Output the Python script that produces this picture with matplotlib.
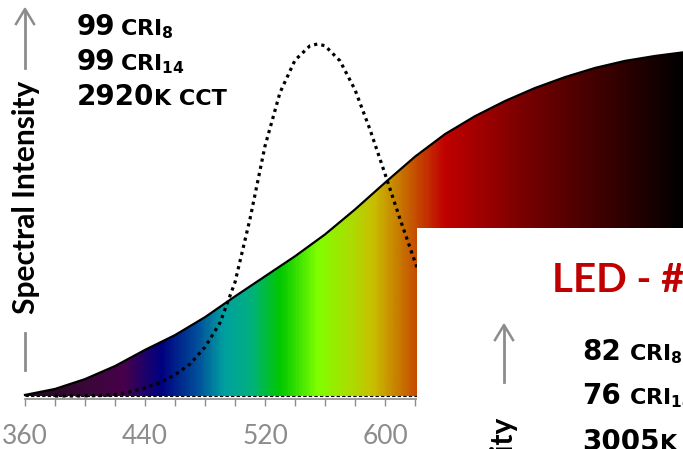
import numpy as np
import matplotlib
matplotlib.use("Agg")
import matplotlib.pyplot as plt
from matplotlib.colors import LinearSegmentedColormap
from matplotlib.patches import Rectangle

plt.rcParams['font.family'] = ['Lato', 'DejaVu Sans']
plt.rcParams['mathtext.fontset'] = 'dejavusans'

# spectral power of the lamp (percent of plot height)
wl = [360, 380, 400, 420, 440, 460, 480, 500, 520, 540, 560, 580, 600,
      620, 640, 660, 680, 700, 720, 740, 760, 780, 800]
spd = [0.3, 2.0, 4.8, 8.5, 13.1, 17.3, 22.4, 28.3, 34.0, 39.7, 45.9, 53.0, 60.6,
       68.0, 74.4, 79.5, 83.8, 87.5, 90.6, 93.2, 95.2, 96.6, 97.7]

# eye sensitivity curve V(lambda), dotted
v_wl = [380, 390, 400, 410, 420, 430, 440, 450, 460, 470, 480, 490, 500, 510,
        520, 530, 540, 550, 555, 560, 570, 580, 590, 600, 610, 620, 630, 640,
        650, 660, 670, 680, 690, 700]
v_val = [0.00004, 0.00012, 0.0004, 0.0012, 0.004, 0.0116, 0.023, 0.038, 0.060,
         0.091, 0.139, 0.208, 0.323, 0.503, 0.710, 0.862, 0.954, 0.995, 1.0,
         0.995, 0.952, 0.870, 0.757, 0.631, 0.503, 0.381, 0.265, 0.175, 0.107,
         0.061, 0.032, 0.017, 0.0082, 0.0041]

# rainbow stops for the fill
stop_wl = [360, 400, 425, 450, 475, 492, 510, 530, 555, 575, 592, 612, 640, 700, 800]
stop_col = ['#1e0a1e', '#3a0838', '#48004a', '#000080', '#00509a', '#00a0a0',
            '#00b080', '#00c800', '#80ff00', '#a8e000', '#c8c000', '#c87000',
            '#c00000', '#700000', '#000000']

ticks_major = [360, 440, 520, 600, 680, 760]

W, H = 683, 449
fig = plt.figure(figsize=(W / 100, H / 100), dpi=100)
ax = fig.add_axes([25 / W, (H - 399) / H, 660 / W, 355 / H])
ax.set_xlim(360, 800)
ax.set_ylim(-3 / 352, 1.0)

x = np.array(wl, dtype=float)
y = np.array(spd) / 100

cmap = LinearSegmentedColormap.from_list(
    'spec', [((w - 360) / 440, c) for w, c in zip(stop_wl, stop_col)])
grad = np.linspace(0, 1, 600).reshape(1, -1)
im = ax.imshow(grad, cmap=cmap, aspect='auto', extent=[360, 800, 0, 1],
               origin='lower', zorder=1)
poly = ax.fill_between(x, 0, y, color='none', lw=0)
im.set_clip_path(poly.get_paths()[0], transform=ax.transData)

ax.plot(x, y, color='black', lw=1.6, zorder=3, clip_on=False)
ax.axhline(0, color='black', lw=0.8, ls=(0, (3, 2)), zorder=3)
ax.plot(v_wl, v_val, color='black', lw=2.3, ls=(0, (1, 1.3)), zorder=4,
        clip_on=False)

for s in ['top', 'right', 'left']:
    ax.spines[s].set_visible(False)
ax.spines['bottom'].set_color('#8c8c8c')
ax.spines['bottom'].set_linewidth(1.2)
ax.set_yticks([])
ax.set_xticks(ticks_major)
ax.set_xticks(np.arange(360, 801, 20), minor=True)
ax.tick_params(axis='x', which='both', length=5, width=1, color='#8c8c8c',
               direction='out')
ax.tick_params(axis='x', which='major', labelsize=19, labelcolor='#8c8c8c',
               pad=13)
ax.patch.set_visible(False)

renderer = fig.canvas.get_renderer()


def runs(x0, ybase, parts, color='black', family='DejaVu Sans'):
    # parts: (text, size, gap before)
    xx = x0
    for s, size, gap in parts:
        xx += gap
        t = fig.text(xx / W, 1 - ybase / H, s, fontsize=size, fontweight='bold',
                     family=family, va='baseline', ha='left', color=color,
                     zorder=10)
        xx += t.get_window_extent(renderer).width


def arrow(xp, y_top, y_bot):
    fig.add_artist(plt.Line2D([xp / W] * 2, [1 - (y_top + 2) / H, 1 - y_bot / H],
                              color='#8c8c8c', lw=2, zorder=10))
    fig.add_artist(plt.Line2D([(xp - 9) / W, xp / W, (xp + 9) / W],
                              [1 - (y_top + 15) / H, 1 - y_top / H, 1 - (y_top + 15) / H],
                              color='#8c8c8c', lw=1.8, zorder=10))


# left labels
runs(77, 35, [('99', 20, 0), (r'CRI$_\mathbf{8}$', 16, 4)])
runs(77, 70, [('99', 20, 0), (r'CRI$_\mathbf{14}$', 16, 4)])
runs(77, 105, [('2920', 20, 0), ('K CCT', 16, 0)])

fig.text(26 / W, 1 - 197 / H, 'Spectral Intensity', rotation=90, fontsize=21.5,
         fontweight='bold', ha='center', va='center', zorder=10)
arrow(25, 9, 68)
fig.add_artist(plt.Line2D([25 / W] * 2, [1 - 333 / H, 1 - 370 / H],
                          color='#8c8c8c', lw=2, zorder=10))

# white panel of the next slide element
fig.add_artist(Rectangle((417 / W, 0), 1, 1 - 228 / H, transform=fig.transFigure,
                         facecolor='white', edgecolor='none', zorder=8))

runs(552, 292, [('LED - #', 29, 0)], color='#c00000', family='Lato')
runs(582, 360, [('82', 20, 0), (r'CRI$_\mathbf{8}$', 16, 8)])
runs(582, 404, [('76', 20, 0), (r'CRI$_\mathbf{14}$', 16, 8)])
runs(582, 450, [('3005', 20, 0), ('K CCT', 16, 0)])
arrow(504, 325, 382)
fig.text(504 / W, 1 - 418 / H, 'Spectral Intensity', rotation=90, fontsize=21.5,
         fontweight='bold', ha='center', va='top', zorder=10)

fig.savefig('out.png', dpi=100)
